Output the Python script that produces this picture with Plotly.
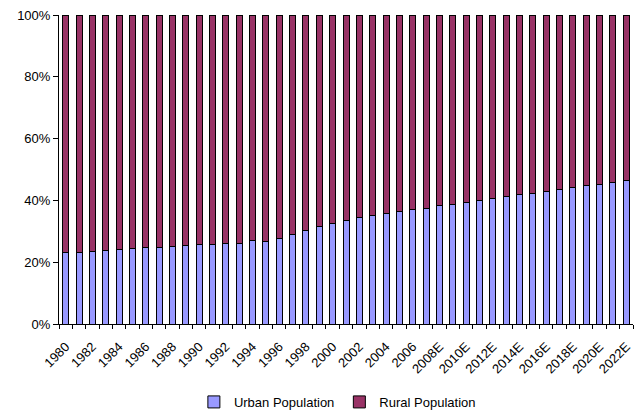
import plotly.graph_objects as go

years = [str(y) for y in range(1980, 2008)] + [f"{y}E" for y in range(2008, 2023)]

urban_pct = [
    23.0, 23.3, 23.6, 23.9, 24.2, 24.3, 24.6, 24.9, 25.1, 25.4,
    25.6, 25.8, 26.0, 26.2, 27.0, 26.7, 27.8, 29.0, 30.1, 31.4,
    32.4, 33.5, 34.5, 35.1, 35.7, 36.3, 37.1, 37.5, 38.2, 38.8,
    39.3, 40.0, 40.6, 41.3, 41.8, 42.3, 42.8, 43.4, 44.1, 44.7,
    45.3, 45.7, 46.3,
]
rural_pct = [round(100 - u, 1) for u in urban_pct]

x_pos = list(range(len(years)))
font_family = "Liberation Sans, Arial, sans-serif"

fig = go.Figure()
fig.add_trace(go.Bar(
    x=x_pos, y=urban_pct, name="Urban Population",
    marker=dict(color="#9999FF", line=dict(color="#000000", width=1)),
    width=0.45,
))
fig.add_trace(go.Bar(
    x=x_pos, y=rural_pct, name="Rural Population",
    marker=dict(color="#993366", line=dict(color="#000000", width=1)),
    width=0.45,
))

fig.update_layout(
    barmode="stack",
    width=637, height=411,
    margin=dict(l=59, r=4, t=15, b=87),
    paper_bgcolor="white", plot_bgcolor="white",
    font=dict(family=font_family, size=13, color="#000000"),
    legend=dict(
        orientation="h", x=0.485, xanchor="center",
        yref="container", y=0.022, yanchor="middle",
        font=dict(size=13), traceorder="normal",
        bgcolor="rgba(0,0,0,0)",
    ),
)

fig.update_xaxes(
    range=[-0.5, len(years) - 0.5],
    tickmode="array",
    tickvals=x_pos[::2],
    ticktext=years[::2],
    tickangle=-45,
    ticks="",
    ticklabelstandoff=9,
    showline=True, linecolor="#000000", linewidth=1,
    showgrid=False, zeroline=False,
    tickfont=dict(size=13),
    minor=dict(tickmode="linear", tick0=-0.5, dtick=1, ticks="outside",
               ticklen=4, tickcolor="#000000", showgrid=False),
)

fig.update_yaxes(
    range=[0, 100],
    tickvals=[0, 20, 40, 60, 80, 100],
    ticktext=["0%", "20%", "40%", "60%", "80%", "100%"],
    ticks="outside", ticklen=5, tickcolor="#000000",
    showline=True, linecolor="#000000", linewidth=1,
    showgrid=False, zeroline=False,
    tickfont=dict(size=13),
)

fig.write_html("out.html")
